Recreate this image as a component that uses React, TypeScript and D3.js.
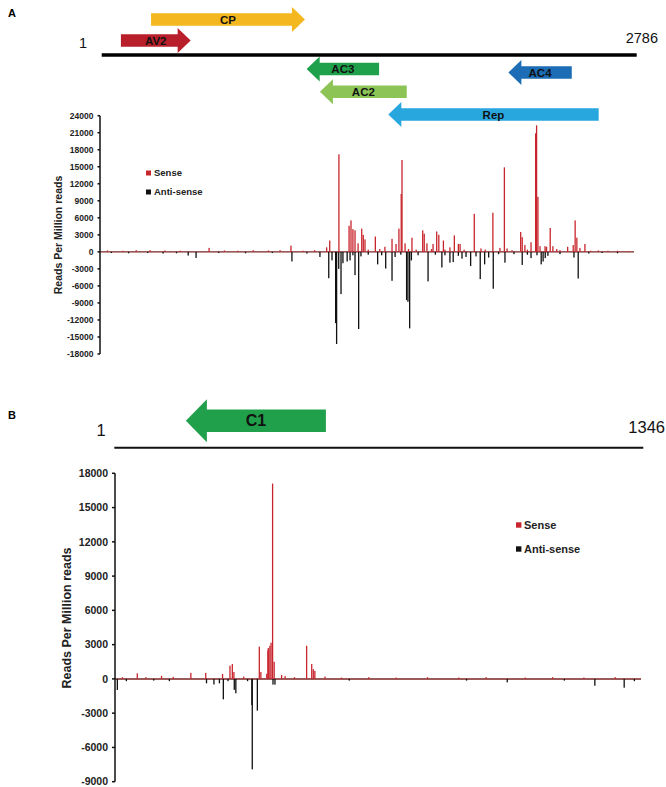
import React from "react";
import * as d3 from "d3";

// genome lengths
const genomeA = 2786;
const genomeB = 1346;

// ORFs on DNA-A: [name, start, end, strand]
const genesA: [string, number, number, number][] = [
  ["CP", 258, 1059, 1],
  ["AV2", 101, 464, 1],
  ["AC3", 1068, 1445, -1],
  ["AC4", 2118, 2448, -1],
  ["AC2", 1137, 1589, -1],
  ["Rep", 1493, 2588, -1],
];
const geneColorsA = ["#f4b71f", "#b91f2a", "#1fa04b", "#1c6db5", "#8cc556", "#28a7df"];
// row (centre y) of each arrow in the map above panel A
const geneRowsA = [19.5, 40.5, 69, 72.5, 91.7, 114.5];

const genesB: [string, number, number, number][] = [["C1", 183, 539, -1]];

// reads per million, sense (+) and anti-sense (-), [position, value]
const senseA: [number, number][] = [
  [40, 250], [120, 200], [190, 300], [262, 300], [340, 250], [420, 200], [570, 700], [650, 250],
  [720, 200], [800, 300], [880, 250], [940, 300], [997, 1100], [1060, 200], [1120, 300],
  [1183, 800], [1199, 2000], [1247, 17200], [1300, 4600], [1310, 5550], [1320, 4000],
  [1331, 3800], [1347, 1500], [1366, 4100], [1374, 3000], [1383, 2200], [1400, 400],
  [1437, 2700], [1460, 500], [1487, 900], [1524, 2300], [1545, 1400], [1560, 4100],
  [1572, 10200], [1576, 16200], [1592, 1500], [1610, 500], [1628, 2500], [1650, 400],
  [1684, 3800], [1692, 3200], [1706, 1500], [1730, 500], [1738, 1400], [1757, 3600],
  [1768, 3000], [1792, 2000], [1800, 400], [1826, 800], [1849, 2900], [1870, 1400],
  [1879, 1400], [1900, 400], [1953, 6700], [1988, 600], [2010, 400], [2050, 6900],
  [2087, 700], [2110, 14900], [2124, 600], [2150, 300], [2195, 3500], [2203, 2600],
  [2217, 1200], [2230, 400], [2249, 1700], [2273, 20900], [2278, 22300], [2285, 9700],
  [2296, 1000], [2322, 1000], [2330, 900], [2349, 4200], [2363, 1000], [2383, 500],
  [2400, 300], [2440, 900], [2469, 1200], [2479, 5550], [2488, 2500], [2504, 700],
  [2530, 1400], [2560, 200], [2600, 250], [2650, 200], [2700, 200], [2760, 150],
];
const antisenseA: [number, number][] = [
  [60, -200], [150, -250], [250, -200], [330, -300], [400, -250], [461, -650], [502, -1070],
  [620, -200], [760, -250], [900, -200], [1002, -1700], [1080, -300], [1148, -900],
  [1194, -4640], [1211, -1500], [1230, -12550], [1235, -16240], [1246, -3000],
  [1258, -7450], [1268, -2000], [1290, -1700], [1305, -1500], [1320, -600], [1331, -4100],
  [1350, -13600], [1362, -800], [1400, -500], [1449, -2200], [1470, -600], [1491, -2940],
  [1524, -5100], [1540, -900], [1570, -500], [1600, -8500], [1607, -8800], [1616, -13480],
  [1625, -1500], [1660, -600], [1712, -5200], [1750, -500], [1784, -2750], [1800, -600],
  [1826, -1900], [1843, -1800], [1870, -700], [1889, -1200], [1910, -900], [1934, -2500],
  [1962, -800], [1984, -4800], [2007, -2200], [2028, -1000], [2052, -6500], [2080, -400],
  [2113, -1900], [2160, -400], [2203, -2300], [2230, -500], [2249, -1100], [2280, -600],
  [2302, -2200], [2312, -1700], [2323, -1100], [2337, -700], [2400, -400], [2473, -1000],
  [2495, -4700], [2550, -300], [2620, -200], [2700, -250],
];

const senseB: [number, number][] = [
  [20, 150], [58, 490], [80, 150], [120, 270], [150, 180], [195, 530], [233, 530],
  [276, 440], [295, 1160], [301, 1300], [305, 600], [330, 200], [370, 2820], [374, 600],
  [389, 450], [392, 2500], [393, 2700], [397, 2900], [400, 3170], [404, 17100],
  [408, 1500], [427, 350], [436, 250], [460, 150], [491, 2900], [504, 1300], [508, 850],
  [512, 700], [538, 200], [580, 120], [650, 150], [720, 120], [800, 150], [880, 120],
  [950, 150], [1050, 120], [1120, 150], [1200, 120], [1280, 150],
];
const antisenseB: [number, number][] = [
  [7, -970], [30, -200], [100, -150], [140, -200], [235, -390], [254, -490], [268, -390],
  [278, -1790], [290, -200], [306, -960], [310, -1260], [340, -200], [351, -2290],
  [352, -7920], [365, -2780], [405, -500], [410, -500], [600, -150], [900, -150],
  [1004, -300], [1150, -150], [1228, -600], [1303, -770], [1329, -200],
];

const ticksA = d3.range(-18000, 24001, 3000);
const ticksB = d3.range(-9000, 18001, 3000);
const legendLabels = ["Sense", "Anti-sense"];

const SENSE = "#c8262d";
const ANTI = "#111111";
const FONT = "'Liberation Sans', Arial, Helvetica, sans-serif";

function Arrow({ x0, x1, strand, cy, body, head, headLen, color, label, fs }: any) {
  const bh = body / 2;
  const hh = head / 2;
  let pts: [number, number][];
  if (strand > 0) {
    const b = x1 - headLen;
    pts = [[x0, cy - bh], [b, cy - bh], [b, cy - hh], [x1, cy], [b, cy + hh], [b, cy + bh], [x0, cy + bh]];
  } else {
    const b = x0 + headLen;
    pts = [[x1, cy - bh], [b, cy - bh], [b, cy - hh], [x0, cy], [b, cy + hh], [b, cy + bh], [x1, cy + bh]];
  }
  return (
    <g>
      <polygon points={pts.map((p) => p.join(",")).join(" ")} fill={color} />
      <text x={(x0 + x1) / 2} y={cy} dy="0.36em" textAnchor="middle" fontSize={fs} fontWeight="bold" fill="#111">
        {label}
      </text>
    </g>
  );
}

function Bars({ data, x, y, color, w }: any) {
  const y0 = y(0);
  return (
    <g fill={color}>
      {data.map(([p, v]: [number, number], i: number) => {
        const yv = y(v);
        return <rect key={i} x={x(p) - w / 2} y={Math.min(yv, y0)} width={w} height={Math.abs(yv - y0)} />;
      })}
    </g>
  );
}

function YAxis({ y, ticks, x, fs, len }: any) {
  const r = y.range();
  return (
    <g>
      <line x1={x} x2={x} y1={r[1]} y2={r[0]} stroke="#111" strokeWidth={1.5} />
      {ticks.map((t: number) => (
        <g key={t}>
          <line x1={x - len} x2={x} y1={y(t)} y2={y(t)} stroke="#111" strokeWidth={1.5} />
          <text x={x - len - 4} y={y(t)} dy="0.35em" textAnchor="end" fontSize={fs} fontWeight="bold" fill="#222">
            {t}
          </text>
        </g>
      ))}
    </g>
  );
}

export default function App() {
  // panel A
  const mapA = d3.scaleLinear().domain([1, genomeA]).range([101.7, 636.7]);
  const xA = d3.scaleLinear().domain([1, genomeA]).range([100, 634]);
  const yA = d3.scaleLinear().domain([-18000, 24000]).range([354, 115.7]);
  // panel B
  const mapB = d3.scaleLinear().domain([1, genomeB]).range([114.3, 643.3]);
  const xB = d3.scaleLinear().domain([1, genomeB]).range([115, 641]);
  const yB = d3.scaleLinear().domain([-9000, 18000]).range([781.7, 473.3]);

  return (
    <svg width={666} height={787} style={{ position: "absolute", left: 0, top: 0, background: "#fff" }} fontFamily={FONT}>
      {/* ---- panel A ---- */}
      <text x={8} y={13} dy="0.35em" fontSize={11} fontWeight="bold">A</text>
      {genesA.map(([name, s, e, strand], i) => (
        <Arrow key={name} x0={mapA(s)} x1={mapA(e)} strand={strand} cy={geneRowsA[i]} body={12.5}
          head={25} headLen={13} color={geneColorsA[i]} label={name} fs={11.5} />
      ))}
      <line x1={mapA(1)} x2={mapA(genomeA)} y1={55} y2={55} stroke="#000" strokeWidth={3.3} />
      <text x={83} y={42.5} dy="0.36em" textAnchor="middle" fontSize={14.5} fill="#111">1</text>
      <text x={658} y={38} dy="0.36em" textAnchor="end" fontSize={14.5} fill="#111">{genomeA}</text>

      <line x1={xA(1)} x2={xA(genomeA)} y1={yA(0)} y2={yA(0)} stroke="#7a2424" strokeWidth={1.2} />
      <Bars data={antisenseA} x={xA} y={yA} color={ANTI} w={1.3} />
      <Bars data={senseA} x={xA} y={yA} color={SENSE} w={1.3} />
      <YAxis y={yA} ticks={ticksA} x={100} fs={8.5} len={2.5} />
      <text transform="translate(58,235) rotate(-90)" textAnchor="middle" dy="0.35em" fontSize={10.5} fontWeight="bold" fill="#222">
        Reads Per Million reads
      </text>
      {legendLabels.map((l, i) => (
        <g key={l}>
          <rect x={146} y={173 + i * 19 - 2.5} width={5} height={5} fill={i === 0 ? SENSE : ANTI} />
          <text x={154} y={173 + i * 19} dy="0.35em" fontSize={9.5} fontWeight="bold" fill="#222">{l}</text>
        </g>
      ))}

      {/* ---- panel B ---- */}
      <text x={8} y={415} dy="0.35em" fontSize={11} fontWeight="bold">B</text>
      {genesB.map(([name, s, e, strand]) => (
        <Arrow key={name} x0={mapB(s)} x1={mapB(e)} strand={strand} cy={420.7} body={22.4}
          head={43} headLen={21} color="#21a04b" label={name} fs={16} />
      ))}
      <line x1={mapB(1)} x2={mapB(genomeB)} y1={447.7} y2={447.7} stroke="#111" strokeWidth={2} />
      <text x={101} y={430} dy="0.36em" textAnchor="middle" fontSize={16.5} fill="#111">1</text>
      <text x={665} y={427} dy="0.36em" textAnchor="end" fontSize={16.5} fill="#111">{genomeB}</text>

      <line x1={xB(1)} x2={xB(genomeB)} y1={yB(0)} y2={yB(0)} stroke="#7a2424" strokeWidth={1.5} />
      <Bars data={antisenseB} x={xB} y={yB} color={ANTI} w={1.3} />
      <Bars data={senseB} x={xB} y={yB} color={SENSE} w={1.3} />
      <YAxis y={yB} ticks={ticksB} x={115} fs={10.5} len={3} />
      <text transform="translate(67,618) rotate(-90)" textAnchor="middle" dy="0.35em" fontSize={12.5} fontWeight="bold" fill="#222">
        Reads Per Million reads
      </text>
      {legendLabels.map((l, i) => (
        <g key={l}>
          <rect x={516} y={525 + i * 24 - 2.7} width={5.4} height={5.4} fill={i === 0 ? SENSE : ANTI} />
          <text x={524} y={525 + i * 24} dy="0.35em" fontSize={11} fontWeight="bold" fill="#222">{l}</text>
        </g>
      ))}
    </svg>
  );
}
